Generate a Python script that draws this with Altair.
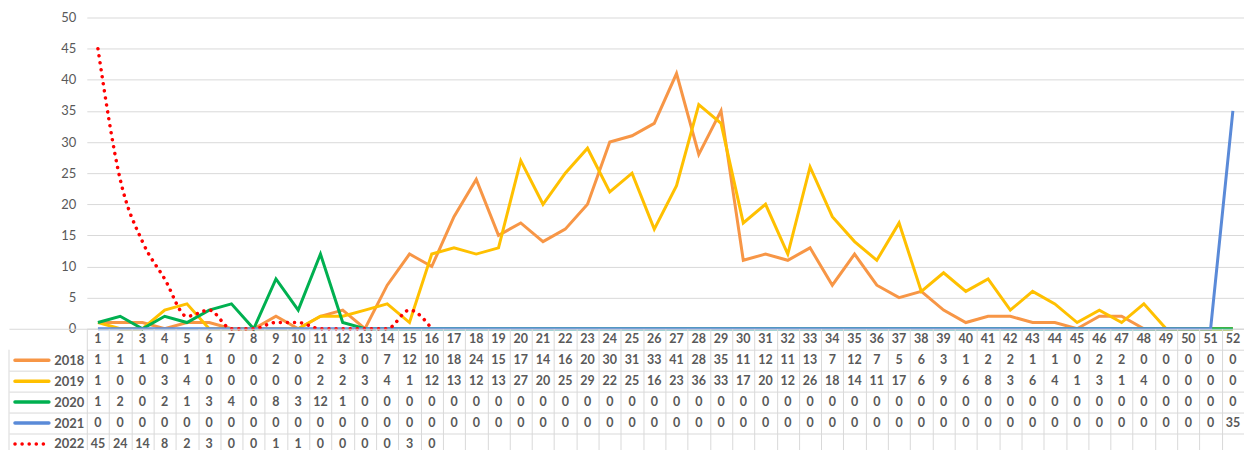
import altair as alt
import pandas as pd

weeks = list(range(1, 53))
series_names = ["2018", "2019", "2020", "2021", "2022"]

s2018 = [1, 1, 1, 0, 1, 1, 0, 0, 2, 0,
         2, 3, 0, 7, 12, 10, 18, 24, 15, 17, 14, 16, 20, 30,
         31, 33, 41, 28, 35, 11, 12, 11, 13, 7, 12, 7, 5, 6,
         3, 1, 2, 2, 1, 1, 0, 2, 2, 0, 0, 0, 0, 0]
s2019 = [1, 0, 0, 3, 4, 0, 0, 0, 0, 0,
         2, 2, 3, 4, 1, 12, 13, 12, 13, 27, 20, 25, 29, 22,
         25, 16, 23, 36, 33, 17, 20, 12, 26, 18, 14, 11, 17, 6,
         9, 6, 8, 3, 6, 4, 1, 3, 1, 4, 0, 0, 0, 0]
s2020 = [1, 2, 0, 2, 1, 3, 4, 0, 8, 3,
         12, 1, 0, 0, 0, 0, 0, 0, 0, 0, 0, 0, 0, 0,
         0, 0, 0, 0, 0, 0, 0, 0, 0, 0, 0, 0, 0, 0,
         0, 0, 0, 0, 0, 0, 0, 0, 0, 0, 0, 0, 0, 0]
s2021 = [0, 0, 0, 0, 0, 0, 0, 0, 0, 0,
         0, 0, 0, 0, 0, 0, 0, 0, 0, 0, 0, 0, 0, 0,
         0, 0, 0, 0, 0, 0, 0, 0, 0, 0, 0, 0, 0, 0,
         0, 0, 0, 0, 0, 0, 0, 0, 0, 0, 0, 0, 0, 35]
s2022 = [45, 24, 14, 8, 2, 3, 0, 0, 1, 1, 0, 0, 0, 0, 3, 0]

HDR = " "
rows = []
for name, vals in zip(series_names, [s2018, s2019, s2020, s2021, s2022]):
    for w, v in zip(weeks, vals):
        rows.append({"week": w, "series": name, "value": v, "label": str(v)})
df = pd.DataFrame(rows)
hdr_df = pd.DataFrame({"week": weeks, "series": HDR, "label": [str(w) for w in weeks]})
tab_df = pd.concat([hdr_df, df[["week", "series", "label"]]], ignore_index=True)

colors = ["#F79646", "#FFC000", "#00B050", "#5A8AD8", "#FF0000"]
dashes = [[1, 0], [1, 0], [1, 0], [1, 0], [0.1, 7]]
GRID = "#D9D9D9"
TXT = "#595959"
FONT = "Lato"

W = 1160
xscale = alt.Scale(domain=weeks, paddingInner=0, paddingOuter=0)
color = alt.Color("series:N", scale=alt.Scale(domain=series_names, range=colors), legend=None)
dash = alt.StrokeDash("series:N", scale=alt.Scale(domain=series_names, range=dashes), legend=None)

x_top = alt.X("week:O", scale=xscale,
              axis=alt.Axis(title=None, labels=False, ticks=False, domain=True,
                            domainColor=GRID, grid=False))
y_top = alt.Y("value:Q", scale=alt.Scale(domain=[0, 50]),
              axis=alt.Axis(title=None, values=list(range(0, 51, 5)), domain=False,
                            ticks=False, labelPadding=11, gridColor=GRID,
                            labelFontSize=13, labelColor=TXT, labelFont=FONT))

solid = alt.Chart(df[df.series != "2022"]).mark_line(strokeWidth=3).encode(
    x=x_top, y=y_top, color=color, detail="series:N"
)
dotted = alt.Chart(df[df.series == "2022"]).mark_line(
    strokeWidth=3.5, strokeDash=[0.1, 7], strokeCap="round", interpolate="monotone"
).encode(x=x_top, y=y_top, color=color)

top = alt.layer(solid, dotted).properties(width=W, height=312)

ROW = 21
tab_domain = [HDR] + series_names
yscale_t = alt.Scale(domain=tab_domain, paddingInner=0, paddingOuter=0)
x_tab = alt.X("week:O", scale=xscale,
              axis=alt.Axis(title=None, labels=False, ticks=False, domain=False, grid=True,
                            tickBand="extent", gridColor=GRID))
y_tab = alt.Y("series:N", scale=yscale_t,
              axis=alt.Axis(title=None, tickBand="extent", tickSize=78,
                            tickColor={"condition": {"test": "datum.value === ' '",
                                                     "value": "transparent"},
                                       "value": GRID},
                            ticks=True, grid=True, gridColor=GRID, domain=False,
                            labelPadding=-75, labelFontSize=13, labelFontWeight="bold",
                            labelColor=TXT, labelFont=FONT))
table_text = alt.Chart(tab_df).mark_text(
    font=FONT, fontSize=12.5, fontWeight="bold", color=TXT
).encode(x=x_tab, y=y_tab, text="label:N")
swatch = alt.Chart(pd.DataFrame({"series": series_names})).mark_rule(
    strokeWidth=3.5, strokeCap="round"
).encode(
    x=alt.value(-72), x2=alt.value(-38),
    y=y_tab,
    color=color, strokeDash=dash,
)
border = alt.Chart(pd.DataFrame({"a": [0]})).mark_rule(color=GRID, strokeWidth=1).encode(
    x=alt.value(-78), y=alt.value(ROW), y2=alt.value(ROW * 6)
)
table = alt.layer(table_text, swatch, border).properties(width=W, height=ROW * 6)

chart = alt.vconcat(top, table, spacing=0, bounds="flush").configure_view(stroke=None).properties(
    padding={"left": 0, "top": 3, "right": 0, "bottom": 0}
)
chart.save("out.html", embed_options={"renderer": "svg", "actions": False})
